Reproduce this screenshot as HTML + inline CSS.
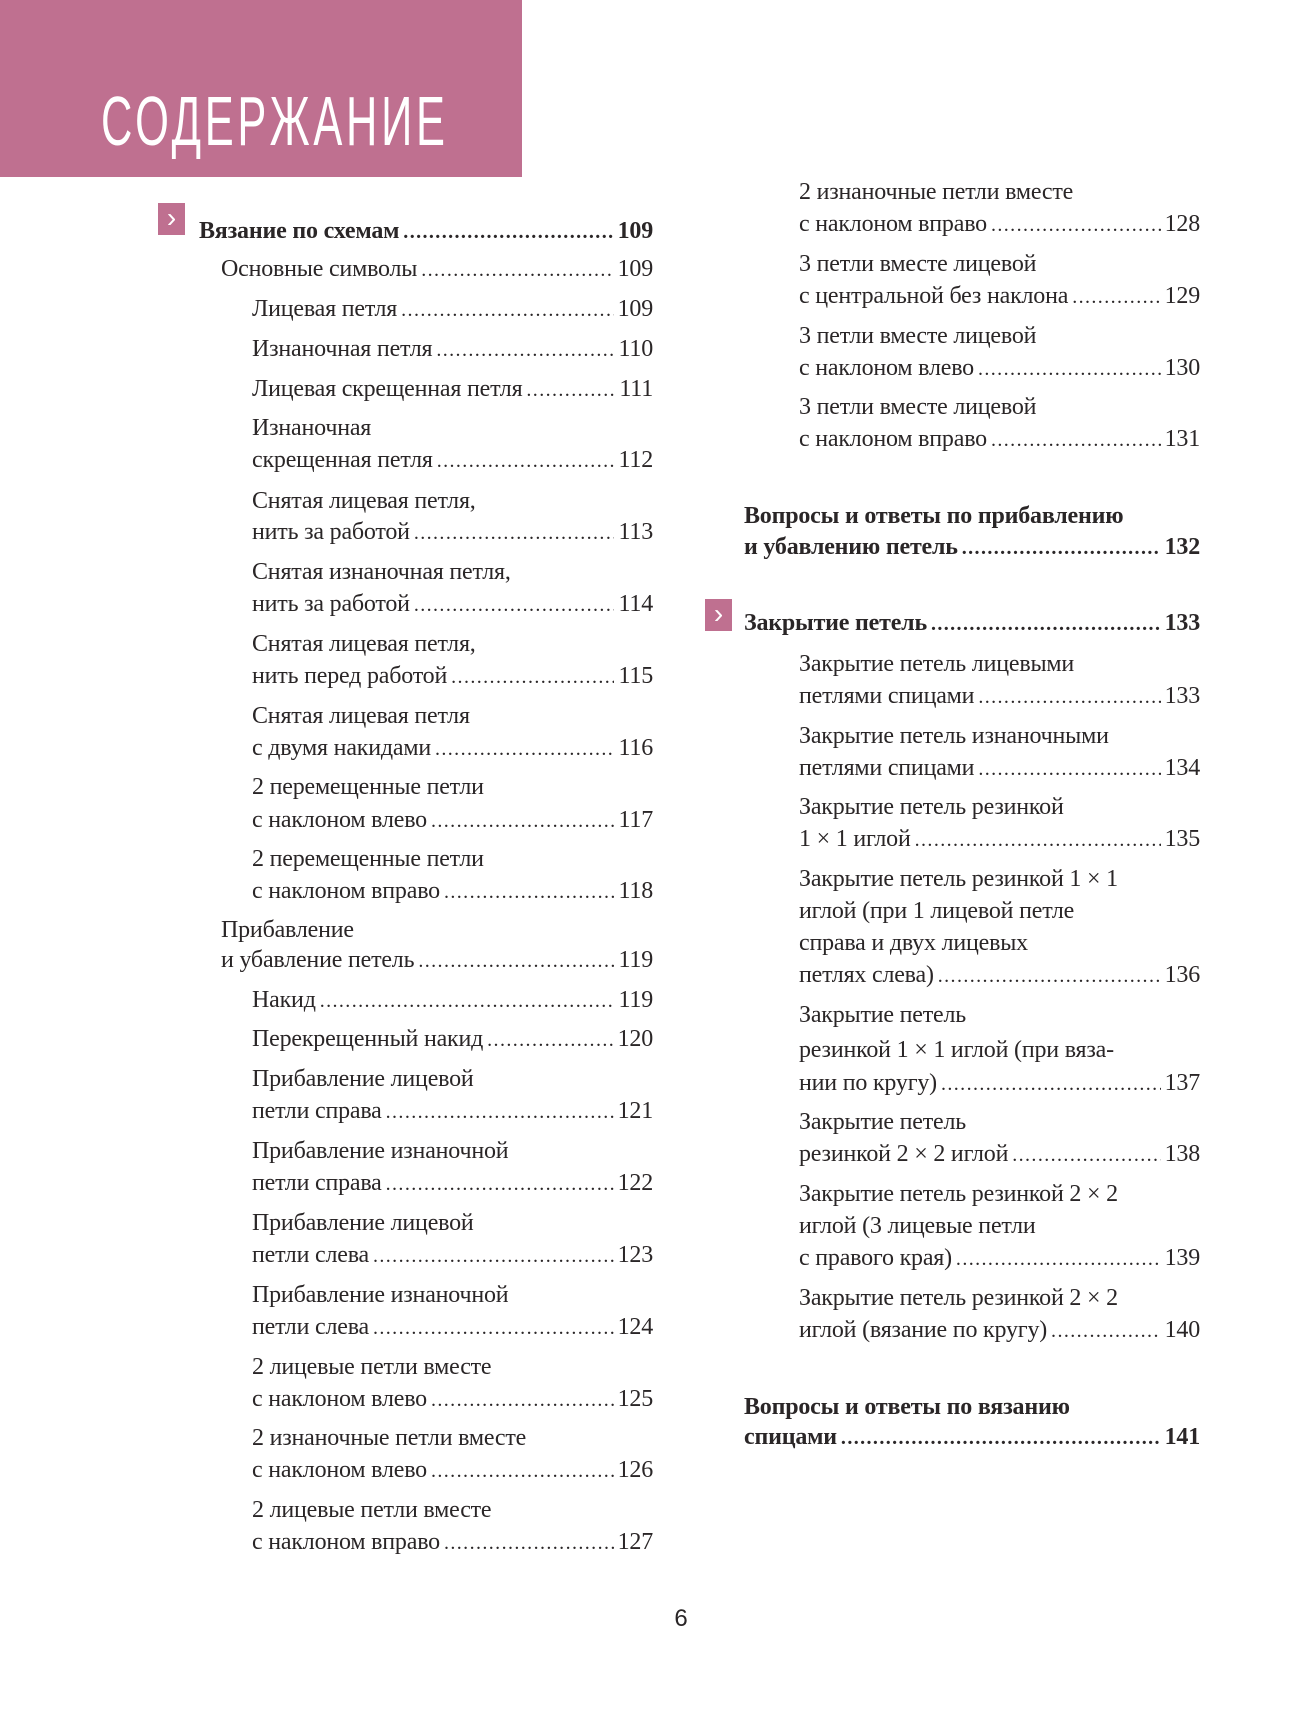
<!DOCTYPE html>
<html><head><meta charset="utf-8"><style>
html,body{margin:0;padding:0;background:#fff}
body{width:1315px;height:1732px;position:relative;overflow:hidden;font-family:"Liberation Serif","DejaVu Serif",serif;color:#2a2627;font-size:24px}
.hdr{position:absolute;left:0;top:0;width:522px;height:177px;background:#bf7090}
.ttl{position:absolute;left:101px;top:86px;font-family:"Liberation Sans Narrow","Liberation Sans",sans-serif;font-size:70px;line-height:70px;color:#fff;letter-spacing:6px;font-weight:normal;transform:scaleX(0.62);transform-origin:left top;white-space:nowrap}
.l,.r{position:absolute;line-height:26px;white-space:nowrap;letter-spacing:-0.2px}
.r{display:flex}
.r .d{flex:1;overflow:hidden;margin:0 4px}
.r .d::after{content:". . . . . . . . . . . . . . . . . . . . . . . . . . . . . . . . . . . . . . . . . . . . . . . . . . . . . . . . . . . . . . . . . . . . . . . . . . . . . . . . . . . . . . . . . . . . . . . . . . . . . . . . . . . . . . . . . . . . . . . . . . . . . . . . . . . . . . . . . . . . . . . . . . . . . . . . . . . . . . . . . . . . . . . . . . . . . . . . . . . . . ";letter-spacing:-1.8px;font-size:20px}
.A{left:252px}.A.r{width:401px}
.B{left:221px}.B.r{width:432px}
.H{left:199px;font-weight:bold}.H.r{width:454px}
.C{left:799px}.C.r{width:401px}
.G{left:744px;font-weight:bold}.G.r{width:456px}
.bx{position:absolute;width:27px;height:32px;background:#bf7090;color:#fff;font-family:"Liberation Sans",sans-serif;font-size:28px;line-height:30px;text-align:center}
.pg{position:absolute;left:0;width:1362px;text-align:center;top:1605px;font-family:"Liberation Sans",sans-serif;font-size:24px}
</style></head><body>
<div class="hdr"></div>
<div class="ttl">СОДЕРЖАНИЕ</div>

<div class="bx" style="left:158px;top:203px">›</div>
<div class="r H" style="top:218px"><span>Вязание по схемам</span><span class="d"></span><span>109</span></div>
<div class="r B" style="top:256px"><span>Основные символы</span><span class="d"></span><span>109</span></div>
<div class="r A" style="top:296px"><span>Лицевая петля</span><span class="d"></span><span>109</span></div>
<div class="r A" style="top:336px"><span>Изнаночная петля</span><span class="d"></span><span>110</span></div>
<div class="r A" style="top:376px"><span>Лицевая скрещенная петля</span><span class="d"></span><span>111</span></div>
<div class="l A" style="top:415px">Изнаночная</div>
<div class="r A" style="top:447px"><span>скрещенная петля</span><span class="d"></span><span>112</span></div>
<div class="l A" style="top:488px">Снятая лицевая петля,</div>
<div class="r A" style="top:519px"><span>нить за работой</span><span class="d"></span><span>113</span></div>
<div class="l A" style="top:559px">Снятая изнаночная петля,</div>
<div class="r A" style="top:591px"><span>нить за работой</span><span class="d"></span><span>114</span></div>
<div class="l A" style="top:631px">Снятая лицевая петля,</div>
<div class="r A" style="top:663px"><span>нить перед работой</span><span class="d"></span><span>115</span></div>
<div class="l A" style="top:703px">Снятая лицевая петля</div>
<div class="r A" style="top:735px"><span>с двумя накидами</span><span class="d"></span><span>116</span></div>
<div class="l A" style="top:774px">2 перемещенные петли</div>
<div class="r A" style="top:807px"><span>с наклоном влево</span><span class="d"></span><span>117</span></div>
<div class="l A" style="top:846px">2 перемещенные петли</div>
<div class="r A" style="top:878px"><span>с наклоном вправо</span><span class="d"></span><span>118</span></div>
<div class="l B" style="top:917px">Прибавление</div>
<div class="r B" style="top:947px"><span>и убавление петель</span><span class="d"></span><span>119</span></div>
<div class="r A" style="top:987px"><span>Накид</span><span class="d"></span><span>119</span></div>
<div class="r A" style="top:1026px"><span>Перекрещенный накид</span><span class="d"></span><span>120</span></div>
<div class="l A" style="top:1066px">Прибавление лицевой</div>
<div class="r A" style="top:1098px"><span>петли справа</span><span class="d"></span><span>121</span></div>
<div class="l A" style="top:1138px">Прибавление изнаночной</div>
<div class="r A" style="top:1170px"><span>петли справа</span><span class="d"></span><span>122</span></div>
<div class="l A" style="top:1210px">Прибавление лицевой</div>
<div class="r A" style="top:1242px"><span>петли слева</span><span class="d"></span><span>123</span></div>
<div class="l A" style="top:1282px">Прибавление изнаночной</div>
<div class="r A" style="top:1314px"><span>петли слева</span><span class="d"></span><span>124</span></div>
<div class="l A" style="top:1354px">2 лицевые петли вместе</div>
<div class="r A" style="top:1386px"><span>с наклоном влево</span><span class="d"></span><span>125</span></div>
<div class="l A" style="top:1425px">2 изнаночные петли вместе</div>
<div class="r A" style="top:1457px"><span>с наклоном влево</span><span class="d"></span><span>126</span></div>
<div class="l A" style="top:1497px">2 лицевые петли вместе</div>
<div class="r A" style="top:1529px"><span>с наклоном вправо</span><span class="d"></span><span>127</span></div>

<div class="l C" style="top:179px">2 изнаночные петли вместе</div>
<div class="r C" style="top:211px"><span>с наклоном вправо</span><span class="d"></span><span>128</span></div>
<div class="l C" style="top:251px">3 петли вместе лицевой</div>
<div class="r C" style="top:283px"><span>с центральной без наклона</span><span class="d"></span><span>129</span></div>
<div class="l C" style="top:323px">3 петли вместе лицевой</div>
<div class="r C" style="top:355px"><span>с наклоном влево</span><span class="d"></span><span>130</span></div>
<div class="l C" style="top:394px">3 петли вместе лицевой</div>
<div class="r C" style="top:426px"><span>с наклоном вправо</span><span class="d"></span><span>131</span></div>
<div class="l G" style="top:503px">Вопросы и ответы по прибавлению</div>
<div class="r G" style="top:534px"><span>и убавлению петель</span><span class="d"></span><span>132</span></div>
<div class="bx" style="left:705px;top:599px">›</div>
<div class="r G" style="top:610px"><span>Закрытие петель</span><span class="d"></span><span>133</span></div>
<div class="l C" style="top:651px">Закрытие петель лицевыми</div>
<div class="r C" style="top:683px"><span>петлями спицами</span><span class="d"></span><span>133</span></div>
<div class="l C" style="top:723px">Закрытие петель изнаночными</div>
<div class="r C" style="top:755px"><span>петлями спицами</span><span class="d"></span><span>134</span></div>
<div class="l C" style="top:794px">Закрытие петель резинкой</div>
<div class="r C" style="top:826px"><span>1 × 1 иглой</span><span class="d"></span><span>135</span></div>
<div class="l C" style="top:866px">Закрытие петель резинкой 1 × 1</div>
<div class="l C" style="top:898px">иглой (при 1 лицевой петле</div>
<div class="l C" style="top:930px">справа и двух лицевых</div>
<div class="r C" style="top:962px"><span>петлях слева)</span><span class="d"></span><span>136</span></div>
<div class="l C" style="top:1002px">Закрытие петель</div>
<div class="l C" style="top:1037px">резинкой 1 × 1 иглой (при вяза-</div>
<div class="r C" style="top:1070px"><span>нии по кругу)</span><span class="d"></span><span>137</span></div>
<div class="l C" style="top:1109px">Закрытие петель</div>
<div class="r C" style="top:1141px"><span>резинкой 2 × 2 иглой</span><span class="d"></span><span>138</span></div>
<div class="l C" style="top:1181px">Закрытие петель резинкой 2 × 2</div>
<div class="l C" style="top:1213px">иглой (3 лицевые петли</div>
<div class="r C" style="top:1245px"><span>с правого края)</span><span class="d"></span><span>139</span></div>
<div class="l C" style="top:1285px">Закрытие петель резинкой 2 × 2</div>
<div class="r C" style="top:1317px"><span>иглой (вязание по кругу)</span><span class="d"></span><span>140</span></div>
<div class="l G" style="top:1394px">Вопросы и ответы по вязанию</div>
<div class="r G" style="top:1424px"><span>спицами</span><span class="d"></span><span>141</span></div>

<div class="pg">6</div>
</body></html>
